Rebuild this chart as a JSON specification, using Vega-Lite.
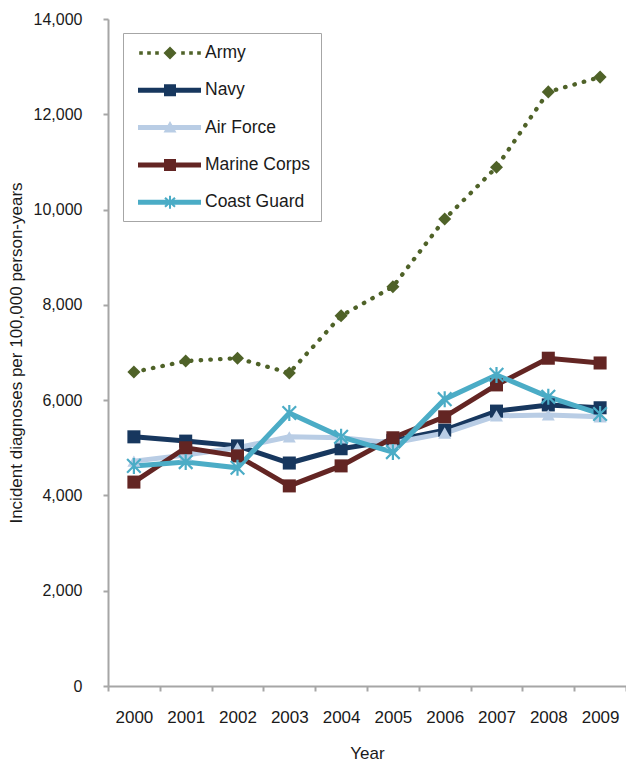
{
  "$schema": "https://vega.github.io/schema/vega-lite/v6.json",
  "width": 518,
  "height": 667,
  "autosize": {"type": "none"},
  "padding": {"left": 108, "top": 19, "right": 0, "bottom": 75},
  "background": "white",
  "config": {"view": {"stroke": null}, "font": "Liberation Sans"},
  "data": {"values": [
    {"year": "2000", "branch": "Army", "rate": 6590},
    {"year": "2001", "branch": "Army", "rate": 6820},
    {"year": "2002", "branch": "Army", "rate": 6880},
    {"year": "2003", "branch": "Army", "rate": 6570},
    {"year": "2004", "branch": "Army", "rate": 7770},
    {"year": "2005", "branch": "Army", "rate": 8380},
    {"year": "2006", "branch": "Army", "rate": 9800},
    {"year": "2007", "branch": "Army", "rate": 10890},
    {"year": "2008", "branch": "Army", "rate": 12470},
    {"year": "2009", "branch": "Army", "rate": 12780},
    {"year": "2000", "branch": "Navy", "rate": 5230},
    {"year": "2001", "branch": "Navy", "rate": 5140},
    {"year": "2002", "branch": "Navy", "rate": 5040},
    {"year": "2003", "branch": "Navy", "rate": 4680},
    {"year": "2004", "branch": "Navy", "rate": 4980},
    {"year": "2005", "branch": "Navy", "rate": 5150},
    {"year": "2006", "branch": "Navy", "rate": 5370},
    {"year": "2007", "branch": "Navy", "rate": 5770},
    {"year": "2008", "branch": "Navy", "rate": 5900},
    {"year": "2009", "branch": "Navy", "rate": 5840},
    {"year": "2000", "branch": "Air Force", "rate": 4720},
    {"year": "2001", "branch": "Air Force", "rate": 4850},
    {"year": "2002", "branch": "Air Force", "rate": 5000},
    {"year": "2003", "branch": "Air Force", "rate": 5230},
    {"year": "2004", "branch": "Air Force", "rate": 5210},
    {"year": "2005", "branch": "Air Force", "rate": 5100},
    {"year": "2006", "branch": "Air Force", "rate": 5310},
    {"year": "2007", "branch": "Air Force", "rate": 5670},
    {"year": "2008", "branch": "Air Force", "rate": 5690},
    {"year": "2009", "branch": "Air Force", "rate": 5650},
    {"year": "2000", "branch": "Marine Corps", "rate": 4280},
    {"year": "2001", "branch": "Marine Corps", "rate": 5000},
    {"year": "2002", "branch": "Marine Corps", "rate": 4830},
    {"year": "2003", "branch": "Marine Corps", "rate": 4200},
    {"year": "2004", "branch": "Marine Corps", "rate": 4620},
    {"year": "2005", "branch": "Marine Corps", "rate": 5210},
    {"year": "2006", "branch": "Marine Corps", "rate": 5650},
    {"year": "2007", "branch": "Marine Corps", "rate": 6320},
    {"year": "2008", "branch": "Marine Corps", "rate": 6880},
    {"year": "2009", "branch": "Marine Corps", "rate": 6780},
    {"year": "2000", "branch": "Coast Guard", "rate": 4620},
    {"year": "2001", "branch": "Coast Guard", "rate": 4700},
    {"year": "2002", "branch": "Coast Guard", "rate": 4580},
    {"year": "2003", "branch": "Coast Guard", "rate": 5730},
    {"year": "2004", "branch": "Coast Guard", "rate": 5230},
    {"year": "2005", "branch": "Coast Guard", "rate": 4910},
    {"year": "2006", "branch": "Coast Guard", "rate": 6020},
    {"year": "2007", "branch": "Coast Guard", "rate": 6530},
    {"year": "2008", "branch": "Coast Guard", "rate": 6070},
    {"year": "2009", "branch": "Coast Guard", "rate": 5710}
  ]},
  "encoding": {
    "x": {
      "field": "year", "type": "ordinal",
      "scale": {"type": "band", "paddingInner": 0, "paddingOuter": 0},
      "axis": {
        "title": "Year", "labelAngle": 0, "tickBand": "extent", "grid": false,
        "domainColor": "#a6a6a6", "domainWidth": 2,
        "tickColor": "#a6a6a6", "tickWidth": 2, "tickSize": 5,
        "labelFontSize": 17, "labelPadding": 18, "labelColor": "#1a1a1a",
        "titleFontSize": 17, "titleFontWeight": "normal", "titleColor": "#1a1a1a", "titlePadding": 20
      }
    },
    "y": {
      "field": "rate", "type": "quantitative",
      "scale": {"domain": [0, 14000]},
      "axis": {
        "title": "Incident diagnoses per 100,000 person-years",
        "values": [0, 2000, 4000, 6000, 8000, 10000, 12000, 14000],
        "format": ",d", "grid": false,
        "domainColor": "#a6a6a6", "domainWidth": 2,
        "tickColor": "#a6a6a6", "tickWidth": 2, "tickSize": 5,
        "labelFontSize": 16, "labelPadding": 21, "labelColor": "#1a1a1a",
        "titleFontSize": 17, "titleFontWeight": "normal", "titleColor": "#1a1a1a", "titlePadding": 8
      }
    },
    "color": {
      "field": "branch", "type": "nominal",
      "scale": {
        "domain": ["Army", "Navy", "Air Force", "Marine Corps", "Coast Guard"],
        "range": ["#4f6228", "#17375e", "#b9cde5", "#632523", "#4bacc6"]
      },
      "legend": {
        "title": null, "orient": "none", "legendX": 15, "legendY": 14,
        "strokeColor": "#a6a6a6", "padding": 10, "rowPadding": 18.3,
        "symbolSize": 400, "symbolStrokeWidth": 0, "labelOffset": 52,
        "labelFontSize": 17.5, "labelColor": "#1a1a1a", "labelBaseline": "middle",
        "encode": {
          "symbols": {
            "update": {
              "shape": {"signal": "datum.value === 'Army' ? 'M-0.38,-0.18H-0.02V0.18H-0.38Z M0.42,-0.18H0.78V0.18H0.42Z M1.22,-0.18H1.58V0.18H1.22Z M3.82,-0.18H4.18V0.18H3.82Z M4.62,-0.18H4.98V0.18H4.62Z M5.42,-0.18H5.78V0.18H5.42Z M2.7,-0.65L3.35,0L2.7,0.65L2.05,0Z' : datum.value === 'Air Force' ? 'M-0.5,-0.25H5.8V0.25H-0.5Z M2.7,-0.65L3.35,0.5H2.05Z' : datum.value === 'Coast Guard' ? 'M-0.5,-0.25H5.8V0.25H-0.5Z M2.6,-0.65H2.8V0.65H2.6Z M2.13,-0.38L2.27,-0.52L3.27,0.38L3.13,0.52Z M2.13,0.38L3.13,-0.52L3.27,-0.38L2.27,0.52Z' : 'M-0.5,-0.25H5.8V0.25H-0.5Z M2.1,-0.6H3.3V0.6H2.1Z'"},
              "fill": {"scale": "color", "field": "value"},
              "stroke": {"value": "transparent"},
              "strokeWidth": {"value": 0},
              "opacity": {"value": 1}
            }
          }
        }
      }
    }
  },
  "layer": [
    {
      "transform": [{"filter": "datum.branch === 'Army'"}],
      "mark": {"type": "line", "strokeDash": [0.5, 9.2], "strokeCap": "round", "strokeWidth": 4.3}
    },
    {
      "transform": [{"filter": "datum.branch !== 'Army'"}],
      "mark": {"type": "line", "strokeWidth": 5}
    },
    {
      "transform": [{"filter": "datum.branch !== 'Coast Guard'"}],
      "mark": {"type": "point", "filled": true, "opacity": 1, "size": 170},
      "encoding": {
        "shape": {
          "field": "branch", "type": "nominal",
          "scale": {"domain": ["Army", "Navy", "Air Force", "Marine Corps"], "range": ["diamond", "square", "triangle-up", "square"]},
          "legend": null
        }
      }
    },
    {
      "transform": [{"filter": "datum.branch === 'Coast Guard'"}],
      "mark": {"type": "point", "filled": false, "opacity": 1, "size": 256, "strokeWidth": 2.2,
               "shape": "M0,-1V1M-0.85,-0.85L0.85,0.85M-0.85,0.85L0.85,-0.85"}
    }
  ]
}
